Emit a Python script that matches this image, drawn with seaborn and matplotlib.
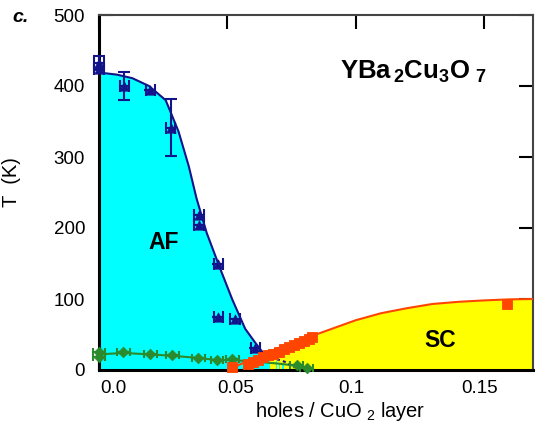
import numpy as np
import pandas as pd
import matplotlib
matplotlib.use("Agg")
import matplotlib.pyplot as plt
import matplotlib.transforms as mtransforms
import seaborn as sns

# ---- data ----
# Antiferromagnetic Neel temperature points (triangles)
af_x = [0.0, 0.0, 0.0098, 0.020, 0.028, 0.039, 0.039, 0.0465, 0.0465, 0.053, 0.061]
af_T = [432, 424, 400, 394, 341, 218, 204, 149, 75, 72, 31]
af_Terr = [10, 0, 20, 0, 40, 0, 0, 0, 0, 0, 0]

# Neel line (smooth guide)
afl_x = [0.0, 0.007, 0.013, 0.0195, 0.026, 0.031, 0.035, 0.038, 0.042, 0.047, 0.052, 0.057, 0.061, 0.064, 0.066]
afl_T = [419, 416, 411, 400, 380, 336, 287, 242, 193, 145, 99, 58, 38, 24, 14]

# spin-glass / green points
gr_x = [0.0, 0.0, 0.0094, 0.020, 0.0285, 0.0387, 0.046, 0.052, 0.077, 0.081]
gr_T = [25, 18, 25, 22, 21, 17, 14, 15, 7, 3]
grl_x = [0.0, 0.0094, 0.020, 0.0285, 0.0387, 0.046, 0.052, 0.060, 0.070, 0.077, 0.081]
grl_T = [22, 24, 22, 20, 17, 14, 14, 12, 9, 6, 3]

# superconducting Tc points (squares)
sc_x = [0.052, 0.058, 0.060, 0.062, 0.064, 0.066, 0.068, 0.070, 0.072, 0.074,
        0.076, 0.078, 0.080, 0.082, 0.083, 0.159]
sc_T = [4, 9, 11, 14, 18, 21, 23, 26, 30, 33, 35, 38, 41, 44, 47, 93]

# Tc dome line
scl_x = [0.051, 0.055, 0.060, 0.065, 0.070, 0.075, 0.080, 0.090, 0.100, 0.110,
         0.120, 0.130, 0.140, 0.150, 0.160, 0.170]
scl_T = [0, 8, 16, 24, 31, 38, 44, 57, 70, 80, 87, 93, 96, 98, 99.5, 100]

# spin-glass hatch bars and dotted dome
sg_x = [0.0645, 0.0665, 0.0692, 0.0704, 0.0716]
sg_T = [15, 14, 12, 10, 8]
sgl_x = [0.0645, 0.0670, 0.0700, 0.0725, 0.0750, 0.0760]
sgl_T = [17, 16.5, 14.5, 11.5, 7, 3]

x_ticks = [0.0, 0.05, 0.1, 0.15]
x_ticklabels = ["0.0", "0.05", "0.1", "0.15"]
y_ticks = [0, 100, 200, 300, 400, 500]

CYAN = "#00ffff"
YELLOW = "#ffff00"
NAVY = "#14148a"
RED = "#ff4500"
GREEN = "#2b8a2b"

sns.set_style("ticks", rc={"text.color": "black", "axes.labelcolor": "black",
                           "xtick.color": "black", "ytick.color": "black"})
plt.rcParams["font.family"] = ["Liberation Sans", "DejaVu Sans"]
plt.rcParams["mathtext.fontset"] = "custom"
plt.rcParams["mathtext.rm"] = "Liberation Sans"
plt.rcParams["mathtext.bf"] = "Liberation Sans:bold"

fig = plt.figure(figsize=(5.35, 4.25), dpi=100)
ax = fig.add_axes([99 / 535, 55 / 425, 434 / 535, 355 / 425])

# fills
ax.fill_between(scl_x, scl_T, 0, color=YELLOW, lw=0, zorder=1)
ax.fill_between(afl_x, afl_T, 0, color=CYAN, lw=0, zorder=1.5)
ax.bar(sg_x, sg_T, width=0.0007, color=CYAN, lw=0, zorder=1.6)

# lines
sns.lineplot(x=afl_x, y=afl_T, ax=ax, color=NAVY, lw=1.5, sort=False, zorder=3)
sns.lineplot(x=scl_x, y=scl_T, ax=ax, color=RED, lw=1.5, sort=False, zorder=3)
sns.lineplot(x=grl_x, y=grl_T, ax=ax, color=GREEN, lw=1.5, sort=False, zorder=3)
ax.plot(sgl_x, sgl_T, color=NAVY, lw=1.5, ls=(0, (1.5, 1.5)), zorder=3)

# error bars
ax.errorbar(af_x, af_T, yerr=af_Terr, xerr=0.0018, fmt="none", ecolor=NAVY,
            elinewidth=1.5, capsize=4, capthick=1.5, zorder=4, clip_on=False)
ax.errorbar(gr_x, gr_T, xerr=0.0025, fmt="none", ecolor=GREEN,
            elinewidth=1.5, capsize=3, capthick=1.5, zorder=4, clip_on=False)

# points
sns.scatterplot(x=af_x, y=af_T, ax=ax, marker="^", s=45, color=NAVY,
                edgecolor=NAVY, zorder=5, clip_on=False)
sns.scatterplot(x=gr_x, y=gr_T, ax=ax, marker="D", s=30, color=GREEN,
                edgecolor=GREEN, zorder=5, clip_on=False)
sns.scatterplot(x=sc_x, y=sc_T, ax=ax, marker="s", s=60, color=RED,
                edgecolor=RED, zorder=6, clip_on=False)

ax.set_xlim(0.0, 0.1692)
ax.set_ylim(0, 500)
ax.set_xticks(x_ticks)
ax.set_xticklabels(x_ticklabels)
ax.set_yticks(y_ticks)

ax.tick_params(direction="in", length=10, width=1.5, labelsize=13.5,
               top=True, right=True, colors="black", labelcolor="black")
ax.tick_params(axis="y", pad=10)
ax.tick_params(axis="x", pad=7)
for side in ["left", "bottom"]:
    ax.spines[side].set_linewidth(2.2)
    ax.spines[side].set_color("black")
for side in ["top", "right"]:
    ax.spines[side].set_linewidth(1.5)
    ax.spines[side].set_color("#444444")

# tick label offsets as in the reference
offs = [14, 8, -4, -4]
for lab, dx in zip(ax.get_xticklabels(), offs):
    lab.set_transform(lab.get_transform() +
                      mtransforms.ScaledTranslation(dx / 100, 0, fig.dpi_scale_trans))

ax.set_ylabel("T  (K)", fontsize=14.5, color="black")
ax.yaxis.set_label_coords(-0.18, 0.53)
ax.set_xlabel(r"holes / CuO$_{\ 2}$ layer", fontsize=14.5, color="black")
ax.xaxis.set_label_coords(0.555, -0.085)

ax.text(0.0254, 180, "AF", fontsize=16.5, fontweight="bold", ha="center",
        va="center", zorder=7, color="black")
ax.text(0.133, 42, "SC", fontsize=16.5, fontweight="bold", ha="center",
        va="center", zorder=7, color="black")
ax.text(0.094, 410, r"$\mathbf{YBa_{\,2}Cu_3O_{\ 7}}$", fontsize=18.5,
        ha="left", va="baseline", zorder=7, color="black")
fig.text(12 / 535, 1 - 22 / 425, "c.", fontsize=14, fontweight="bold",
         fontstyle="italic", ha="left", va="baseline", color="black")

fig.savefig("out.png", dpi=100)
